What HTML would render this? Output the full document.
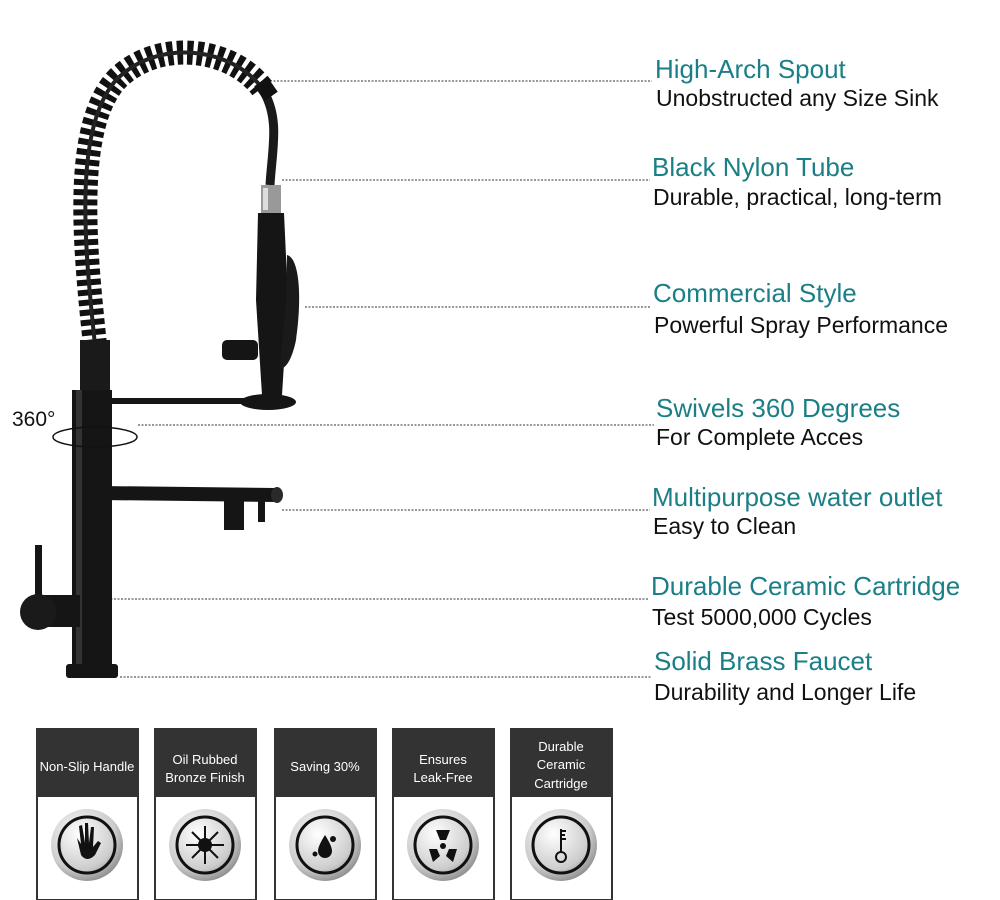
<!DOCTYPE html>
<html><head><style>
body{margin:0;background:#fff;width:1000px;height:900px;overflow:hidden;font-family:"Liberation Sans",sans-serif}
</style></head><body>
<svg width="1000" height="900" xmlns="http://www.w3.org/2000/svg" style="position:absolute;left:0;top:0">
<g stroke="#777" stroke-width="1.5" stroke-dasharray="2,1.5" fill="none">
<line x1="270" y1="81" x2="652" y2="81"/>
<line x1="282" y1="180" x2="650" y2="180"/>
<line x1="305" y1="307" x2="651" y2="307"/>
<line x1="138" y1="425" x2="654" y2="425"/>
<line x1="282" y1="510" x2="650" y2="510"/>
<line x1="93" y1="599" x2="649" y2="599"/>
<line x1="120" y1="677" x2="652" y2="677"/>
</g>
<path d="M95,345 C85,250 72,125 118,78 C160,38 232,48 262,88" stroke="#111" stroke-width="24" fill="none" stroke-dasharray="6,4"/>
<path d="M95,345 C85,250 72,125 118,78 C160,38 232,48 262,88" stroke="#222" stroke-width="4" fill="none"/>
<path d="M264,92 C280,120 272,150 270,185" stroke="#1a1a1a" stroke-width="9" fill="none"/>
<rect x="258" y="80" width="16" height="18" fill="#111" transform="rotate(-35 266 89)"/>
<rect x="80" y="340" width="30" height="52" fill="#1a1a1a"/>
<rect x="261" y="185" width="20" height="28" fill="#999"/>
<rect x="263" y="188" width="5" height="22" fill="#ddd"/>
<path d="M258,213 L284,213 L288,300 L282,395 L262,395 L256,300 Z" fill="#151515"/>
<path d="M287,255 C300,258 302,300 296,340 C292,360 285,370 280,368 L286,300 Z" fill="#1a1a1a"/>
<rect x="222" y="340" width="36" height="20" rx="5" fill="#151515"/>
<ellipse cx="268" cy="402" rx="28" ry="8" fill="#151515"/>
<rect x="110" y="398" width="140" height="6" fill="#151515"/>
<rect x="72" y="390" width="40" height="280" fill="#151515"/>
<rect x="76" y="390" width="6" height="280" fill="#333"/>
<rect x="66" y="664" width="52" height="14" rx="3" fill="#151515"/>
<path d="M100,486 L275,488 L275,502 L100,500 Z" fill="#151515"/>
<ellipse cx="277" cy="495" rx="6" ry="8" fill="#2a2a2a"/>
<rect x="224" y="500" width="20" height="30" fill="#151515"/>
<rect x="258" y="500" width="7" height="22" fill="#151515"/>
<rect x="35" y="545" width="7" height="55" fill="#151515"/>
<rect x="40" y="595" width="40" height="32" fill="#151515"/>
<circle cx="38" cy="612" r="18" fill="#1a1a1a"/>
<text x="12" y="426" font-size="21" fill="#111" font-family="Liberation Sans">360°</text>
<ellipse cx="95" cy="437" rx="42" ry="10" stroke="#111" stroke-width="1.5" fill="none"/>
<g font-family="Liberation Sans">
<g fill="#1a7f86" font-size="26">
<text x="655" y="78">High-Arch Spout</text>
<text x="652" y="176">Black Nylon Tube</text>
<text x="653" y="302">Commercial Style</text>
<text x="656" y="417">Swivels 360 Degrees</text>
<text x="652" y="506">Multipurpose water outlet</text>
<text x="651" y="595">Durable Ceramic Cartridge</text>
<text x="654" y="670">Solid Brass Faucet</text>
</g>
<g fill="#111" font-size="23">
<text x="656" y="106">Unobstructed any Size Sink</text>
<text x="653" y="205">Durable, practical, long-term</text>
<text x="654" y="333">Powerful Spray Performance</text>
<text x="656" y="445">For Complete Acces</text>
<text x="653" y="534">Easy to Clean</text>
<text x="652" y="625">Test 5000,000 Cycles</text>
<text x="654" y="700">Durability and Longer Life</text>
</g>
</g>
<defs>
<radialGradient id="g" cx="0.4" cy="0.35" r="0.7"><stop offset="0" stop-color="#fff"/><stop offset="0.7" stop-color="#ccc"/><stop offset="1" stop-color="#888"/></radialGradient>
</defs>
<g font-family="Liberation Sans" font-size="13" fill="#fff" text-anchor="middle">
<g transform="translate(37,729)"><rect width="101" height="171" fill="#fff" stroke="#333" stroke-width="2"/><rect width="101" height="68" fill="#333"/><text x="50" y="42">Non-Slip Handle</text>
<g transform="translate(0,14)"><circle cx="50" cy="102" r="36" fill="url(#g)"/><circle cx="50" cy="102" r="28" fill="none" stroke="#111" stroke-width="3"/><path d="M40,95 L44,112 Q50,120 58,112 L64,100 L61,98 L56,104 L57,84 L54,84 L52,100 L51,80 L48,80 L48,100 L45,82 L42,83 L44,101 Z" fill="#111"/></g></g>
<g transform="translate(155,729)"><rect width="101" height="171" fill="#fff" stroke="#333" stroke-width="2"/><rect width="101" height="68" fill="#333"/><text x="50" y="35">Oil Rubbed</text><text x="50" y="53">Bronze Finish</text>
<g transform="translate(0,14)"><circle cx="50" cy="102" r="36" fill="url(#g)"/><circle cx="50" cy="102" r="28" fill="none" stroke="#111" stroke-width="3"/><circle cx="50" cy="102" r="7" fill="#111"/><g stroke="#111" stroke-width="2"><line x1="50" y1="83" x2="50" y2="121"/><line x1="31" y1="102" x2="69" y2="102"/><line x1="37" y1="89" x2="63" y2="115"/><line x1="63" y1="89" x2="37" y2="115"/></g></g></g>
<g transform="translate(275,729)"><rect width="101" height="171" fill="#fff" stroke="#333" stroke-width="2"/><rect width="101" height="68" fill="#333"/><text x="50" y="42">Saving 30%</text>
<g transform="translate(0,14)"><circle cx="50" cy="102" r="36" fill="url(#g)"/><circle cx="50" cy="102" r="28" fill="none" stroke="#111" stroke-width="3"/><path d="M50,92 Q57,103 57,108 A7,7 0 0 1 43,108 Q43,103 50,92Z" fill="#111"/><circle cx="58" cy="96" r="3" fill="#111"/><circle cx="40" cy="111" r="2.5" fill="#111"/></g></g>
<g transform="translate(393,729)"><rect width="101" height="171" fill="#fff" stroke="#333" stroke-width="2"/><rect width="101" height="68" fill="#333"/><text x="50" y="35">Ensures</text><text x="50" y="53">Leak-Free</text>
<g transform="translate(0,14)"><circle cx="50" cy="102" r="36" fill="url(#g)"/><circle cx="50" cy="102" r="28" fill="none" stroke="#111" stroke-width="3"/><circle cx="50" cy="103" r="3" fill="#111"/><path d="M43,87 L57,87 L53,97 L47,97Z M36,106 L44,106 L47,113 L40,119Z M64,106 L56,106 L53,113 L60,119Z" fill="#111"/></g></g>
<g transform="translate(511,729)"><rect width="101" height="171" fill="#fff" stroke="#333" stroke-width="2"/><rect width="101" height="68" fill="#333"/><text x="50" y="22">Durable</text><text x="50" y="40">Ceramic</text><text x="50" y="59">Cartridge</text>
<g transform="translate(0,14)"><circle cx="50" cy="102" r="36" fill="url(#g)"/><circle cx="50" cy="102" r="28" fill="none" stroke="#111" stroke-width="3"/><line x1="50" y1="86" x2="50" y2="110" stroke="#111" stroke-width="2"/><path d="M50,88 h5 M50,92 h4 M50,96 h5" stroke="#111" stroke-width="2"/><circle cx="50" cy="114" r="5" fill="none" stroke="#111" stroke-width="2"/></g></g>
</g>
</svg>
</body></html>
